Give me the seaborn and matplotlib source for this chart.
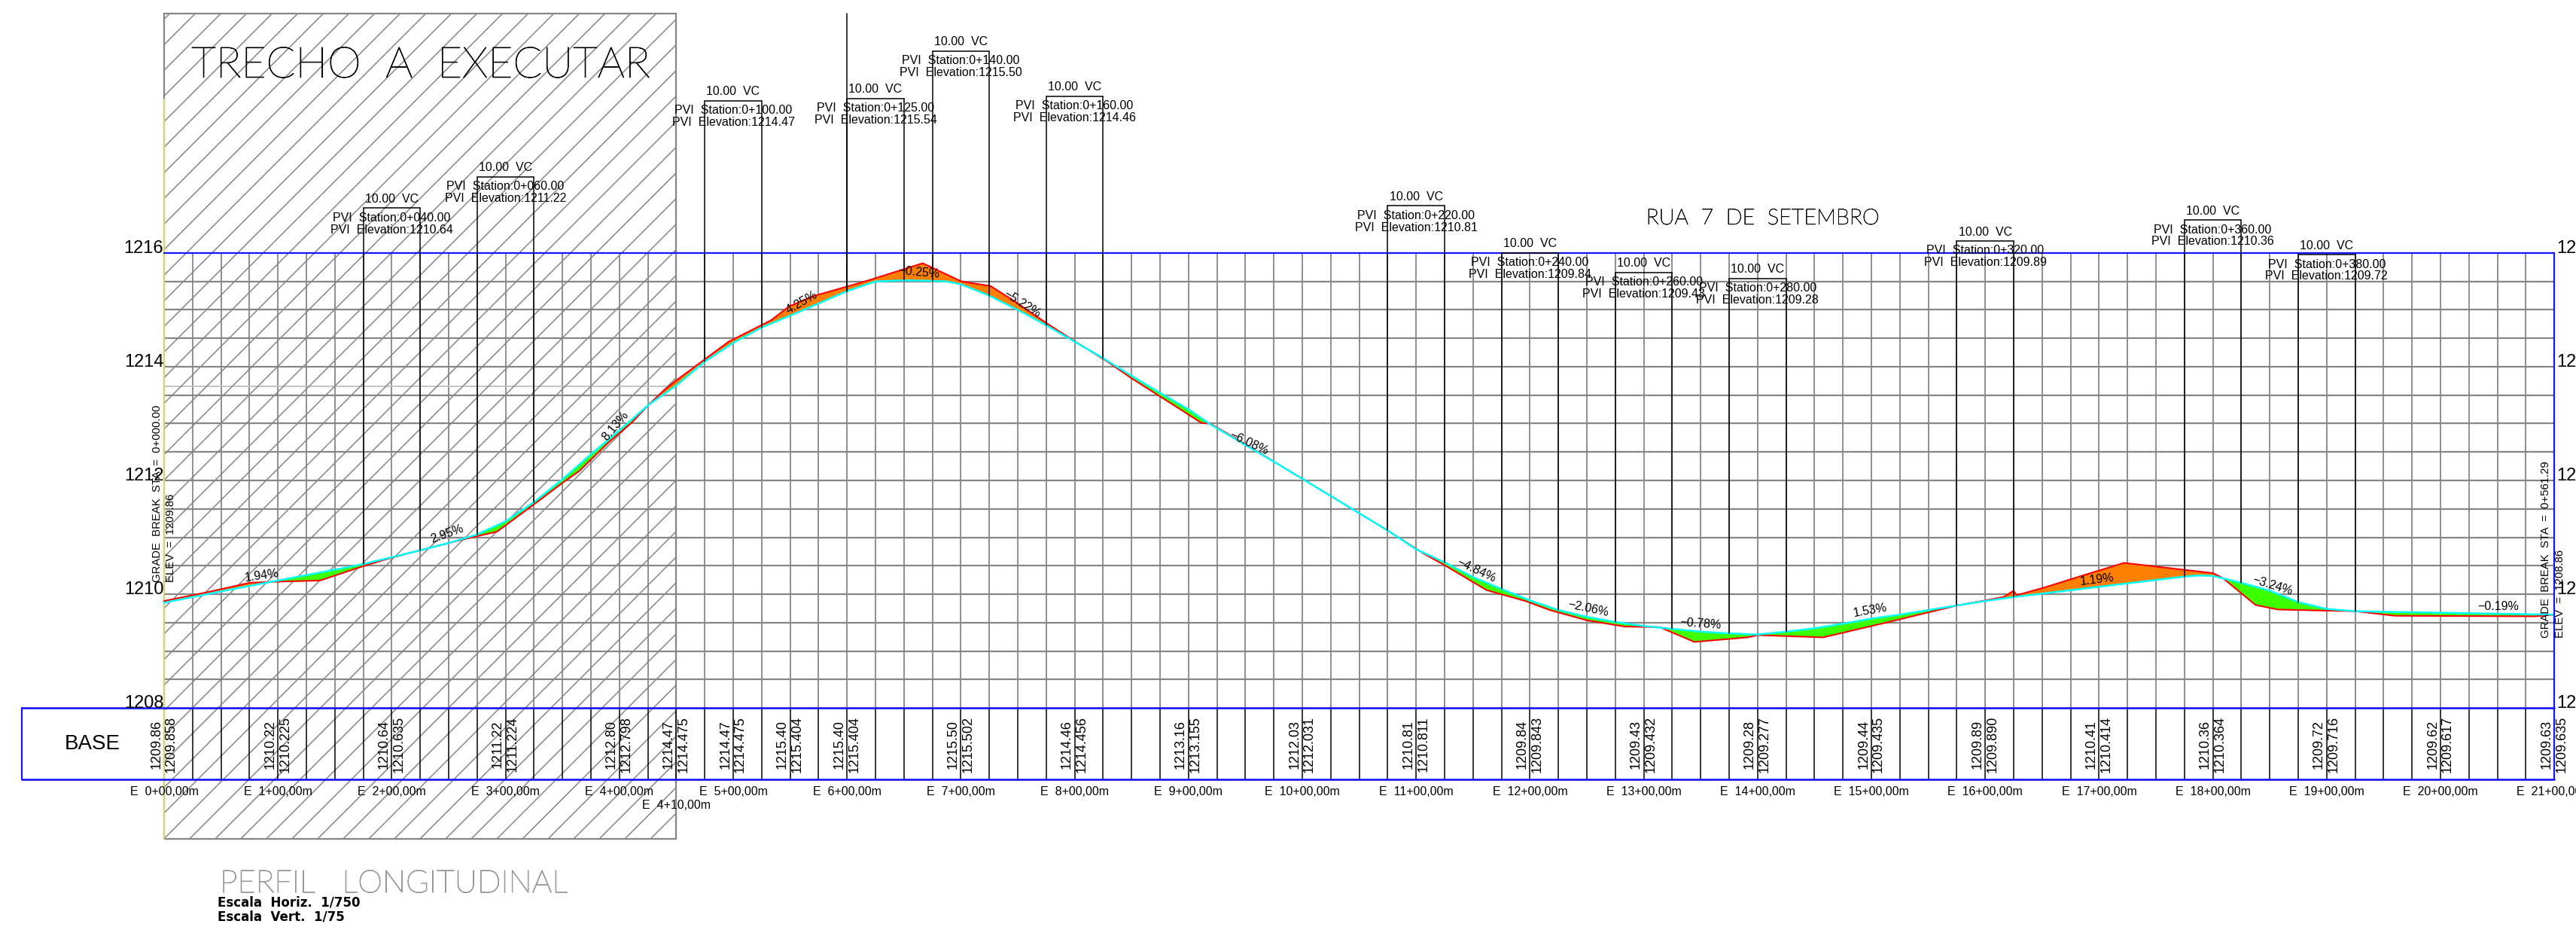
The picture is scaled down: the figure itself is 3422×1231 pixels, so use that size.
import numpy as np
import matplotlib
matplotlib.use('Agg')
import matplotlib.pyplot as plt
import matplotlib.patheffects as pe
from matplotlib.patches import Rectangle
import seaborn as sns

# greide (cyan)
greide_est = [0, 10, 20, 30, 35, 40, 45, 50, 55, 60, 65, 70, 75, 80, 85, 90, 95, 100, 105, 112.4, 120, 125,
              130, 135, 137.5, 140, 145, 150, 155, 160, 165, 170, 175, 180, 183.8, 196.5, 200, 215, 220, 225,
              230, 235, 240, 245, 250, 255, 260, 265, 270, 275, 280, 285, 290, 295, 300, 305, 310, 315, 320,
              325, 330, 335, 340, 345, 350, 355, 357.5, 360, 362.5, 365, 370, 375, 380, 385, 390, 420]
greide_cota = [1209.85, 1210.05, 1210.24, 1210.43, 1210.53, 1210.65, 1210.77, 1210.90, 1211.05, 1211.28, 1211.62,
               1212.02, 1212.46, 1212.88, 1213.32, 1213.67, 1214.09, 1214.42, 1214.69, 1215.00, 1215.33, 1215.50,
               1215.52, 1215.51, 1215.50, 1215.45, 1215.25, 1215.00, 1214.73, 1214.44, 1214.15, 1213.84, 1213.54,
               1213.25, 1212.99, 1212.24, 1212.03, 1211.12, 1210.79, 1210.56, 1210.30, 1210.09, 1209.89, 1209.72,
               1209.60, 1209.51, 1209.44, 1209.39, 1209.34, 1209.31, 1209.29, 1209.34, 1209.40, 1209.48, 1209.57,
               1209.64, 1209.72, 1209.80, 1209.88, 1209.95, 1210.01, 1210.07, 1210.13, 1210.19, 1210.25, 1210.31,
               1210.33, 1210.32, 1210.26, 1210.20, 1210.06, 1209.86, 1209.74, 1209.70, 1209.69, 1209.64]

# terreno (red)
terreno_est = [0, 7.4, 15, 20, 27.4, 34.9, 39.9, 44.9, 52.4, 58.5, 60, 65, 69.9, 73, 78, 82.3, 84.8, 88, 90, 95, 99.2,
               106.7, 109.8, 114, 120, 123.8, 133.3, 140.1, 145.2, 149.3, 155.3, 159.5, 165.6, 170.1, 178.1, 182.3,
               183.8, 187.6, 200, 215, 221.4, 225, 232.4, 239.2, 243.5, 250, 256.7, 262.8, 268.9, 278.2, 280, 291.5,
               303, 315, 319.5, 323.2, 325, 325.5, 330.5, 337.2, 344.4, 354.8, 360, 361.8, 367.5, 371.4, 379.8, 385,
               392, 416.6, 420]
terreno_cota = [1209.88, 1210.03, 1210.20, 1210.22, 1210.24, 1210.49, 1210.64, 1210.77, 1210.96, 1211.10, 1211.21,
                1211.58, 1211.95, 1212.17, 1212.66, 1213.03, 1213.30, 1213.60, 1213.76, 1214.13, 1214.44, 1214.82,
                1215.06, 1215.24, 1215.41, 1215.52, 1215.82, 1215.50, 1215.42, 1215.16, 1214.75, 1214.48, 1214.10,
                1213.79, 1213.28, 1213.01, 1213.00, 1212.78, 1212.03, 1211.12, 1210.71, 1210.51, 1210.07, 1209.88,
                1209.72, 1209.54, 1209.43, 1209.42, 1209.16, 1209.24, 1209.28, 1209.24, 1209.51, 1209.80, 1209.88,
                1209.95, 1210.06, 1209.98, 1210.12, 1210.33, 1210.55, 1210.43, 1210.37, 1210.28, 1209.81, 1209.73,
                1209.71, 1209.70, 1209.62, 1209.61, 1209.64]

# vertical curves
pvi_est = [40, 60, 100, 125, 140, 160, 220, 240, 260, 280, 320, 360, 380]
pvi_cota = ['1210.64', '1211.22', '1214.47', '1215.54', '1215.50', '1214.46', '1210.81',
            '1209.84', '1209.43', '1209.28', '1209.89', '1210.36', '1209.72']
pvi_topo = [1216.79, 1217.34, 1218.68, 1218.72, 1219.55, 1218.76, 1216.83,
            1216.00, 1215.66, 1215.55, 1216.21, 1216.58, 1215.97]

# slope labels: text, station, elevation, angle
rampa_txt = ['1.94%', '2.95%', '8.13%', '4.25%', '\u22120.25%', '\u22125.22%', '\u22126.08%',
             '\u22124.84%', '\u22122.06%', '\u22120.78%', '1.53%', '1.19%', '\u22123.24%', '\u22120.19%']
rampa_est = [17.2, 49.7, 79.3, 112, 132.6, 150.8, 190.6, 230.6, 250.3, 270, 299.8, 339.7, 370.5, 410.2]
rampa_cota = [1210.32, 1211.06, 1212.96, 1215.13, 1215.66, 1215.11, 1212.66,
              1210.42, 1209.75, 1209.48, 1209.71, 1210.25, 1210.15, 1209.78]
rampa_ang = [8, 20, 50, 30, -5, -32, -25, -25, -12, -4, 10, 7, -17, 0]

# base table
tab_est = [0, 20, 40, 60, 80, 90, 100, 110, 120, 140, 160, 180, 200, 220, 240, 260, 280, 300, 320, 340, 360, 380, 400, 420]
tab_a = ['1209.86', '1210.22', '1210.64', '1211.22', '1212.80', '1214.47', '1214.47', '1215.40', '1215.40', '1215.50',
         '1214.46', '1213.16', '1212.03', '1210.81', '1209.84', '1209.43', '1209.28', '1209.44', '1209.89', '1210.41',
         '1210.36', '1209.72', '1209.62', '1209.63']
tab_b = ['1209.858', '1210.225', '1210.635', '1211.224', '1212.798', '1214.475', '1214.475', '1215.404', '1215.404',
         '1215.502', '1214.456', '1213.155', '1212.031', '1210.811', '1209.843', '1209.432', '1209.277', '1209.435',
         '1209.890', '1210.414', '1210.364', '1209.716', '1209.617', '1209.635']
cotas_eixo = [1216, 1214, 1212, 1210, 1208]

CINZA = '#868686'
AZUL = '#1414ff'
NARROW = ['Liberation Sans Narrow', 'Liberation Sans']

sns.set_theme(style='white')
plt.rcParams['font.family'] = NARROW

fig = plt.figure(figsize=(34.22, 12.31), dpi=100)
ax = fig.add_axes([0, 0, 1, 1])
ax.set_xlim(-28.84, 423.81)
ax.set_ylim(1204.146, 1220.45)
ax.set_axis_off()

Z_BASE = 1206.74
Z_HACH = 1205.70
Z_TOPO = 1220.21


def titulo(x, y, txt, size, cor='black', traco=0.7):
    t = ax.text(x, y, txt, ha='left', va='center', fontsize=size, family='Lato', weight='light', color=cor, zorder=9)
    t.set_path_effects([pe.withStroke(linewidth=traco, foreground=cor)])


# grid
for e in np.arange(0, 425, 5):
    ax.plot([e, e], [1208, 1216], color=CINZA, lw=1.3, zorder=1)
for z in np.arange(1208.5, 1216, 0.5):
    ax.plot([0, 420], [z, z], color=CINZA, lw=1.6, zorder=1)
ax.plot([0, 90], [1213.66, 1213.66], color='#c4c4c4', lw=1.4, zorder=1)

# hatched area
ret = Rectangle((0, Z_HACH), 90, Z_TOPO - Z_HACH, fill=False, ec=CINZA, lw=1.6, zorder=2)
ax.add_patch(ret)
for e0 in np.arange(-148.5, 95, 4.5):
    linha, = ax.plot([e0, e0 + 200], [Z_HACH, Z_HACH + 200 * 0.1001], color=CINZA, lw=1.1, zorder=2)
    linha.set_clip_path(ret)
ax.plot([0, 0], [Z_HACH, 1218.7], color='#d6d66a', lw=1.5, zorder=3)

# cut / fill between profiles
xs = np.union1d(greide_est, terreno_est)
g = np.interp(xs, greide_est, greide_cota)
t = np.interp(xs, terreno_est, terreno_cota)
ax.fill_between(xs, g, t, where=t >= g, interpolate=True, color='#ff8000', lw=0, zorder=4)
ax.fill_between(xs, g, t, where=t <= g, interpolate=True, color='#3cff00', lw=0, zorder=4)
sns.lineplot(x=terreno_est, y=terreno_cota, color='#ff0000', lw=1.5, ax=ax, zorder=5, estimator=None, sort=False)
sns.lineplot(x=greide_est, y=greide_cota, color='#00ffff', lw=1.8, ax=ax, zorder=6, estimator=None, sort=False)

# blue frame and table
ax.plot([0, 420], [1216, 1216], color=AZUL, lw=1.6, zorder=7)
ax.plot([-25, 420], [1208, 1208], color=AZUL, lw=1.9, zorder=7)
ax.plot([-25, 420], [Z_BASE, Z_BASE], color=AZUL, lw=1.9, zorder=7)
ax.plot([-25, -25], [Z_BASE, 1208], color=AZUL, lw=1.6, zorder=7)
ax.plot([420, 420], [Z_BASE, 1216], color=AZUL, lw=1.6, zorder=7)
for e in np.arange(5, 425, 5):
    ax.plot([e, e], [Z_BASE, 1208], color='black', lw=1.1, zorder=6)

# vertical curve boxes
for est, cota, topo in zip(pvi_est, pvi_cota, pvi_topo):
    for lado in (est - 5, est + 5):
        ax.plot([lado, lado], [np.interp(lado, greide_est, greide_cota), topo], color='black', lw=1.1, zorder=8)
    ax.plot([est - 5, est + 5], [topo, topo], color='black', lw=1.1, zorder=8)
    ax.text(est, topo + 0.16, '10.00  VC', ha='center', va='center', fontsize=11.5, color='black', zorder=9)
    ax.text(est, topo - 0.17, 'PVI  Station:0+%03d.00' % est, ha='center', va='center', fontsize=11.5, color='black', zorder=9)
    ax.text(est, topo - 0.38, 'PVI  Elevation:' + cota, ha='center', va='center', fontsize=11.5, color='black', zorder=9)
ax.plot([120, 120], [np.interp(120, greide_est, greide_cota), Z_TOPO], color='black', lw=1.1, zorder=8)

for txt, est, cota, ang in zip(rampa_txt, rampa_est, rampa_cota, rampa_ang):
    ax.text(est, cota, txt, rotation=ang, rotation_mode='anchor', ha='center', va='center',
            fontsize=11.5, color='black', zorder=10)

# elevation labels on both sides
for c in cotas_eixo:
    ax.text(-0.1, c - 0.07, str(c), ha='right', va='bottom', fontsize=17, color='black', zorder=9)
    ax.text(420.4, c - 0.07, str(c), ha='left', va='bottom', fontsize=17, color='black', zorder=9)

# table text
for est, a, b in zip(tab_est, tab_a, tab_b):
    ax.text(est - 1.35, 1207.36, a, rotation=90, ha='center', va='center', fontsize=13, color='black', zorder=9)
    ax.text(est + 1.25, 1207.36, b, rotation=90, ha='center', va='center', fontsize=13, color='black', zorder=9)
ax.text(-17.5, 1207.37, 'BASE', ha='left', va='center', fontsize=20, color='black', zorder=9)

# station labels
for i in range(22):
    ax.text(i * 20, 1206.53, 'E  %d+00,00m' % i, ha='center', va='center', fontsize=11.5, color='black', zorder=9)
ax.text(90, 1206.28, 'E  4+10,00m', ha='center', va='center', fontsize=11.5, color='black', zorder=9)

# grade break notes
ax.text(-1.2, 1210.21, 'GRADE  BREAK  STA  =  0+000.00', rotation=90, ha='center', va='bottom', fontsize=10.7, color='black', zorder=9)
ax.text(1.15, 1210.21, 'ELEV  =  1209.86', rotation=90, ha='center', va='bottom', fontsize=10.7, color='black', zorder=9)
ax.text(418.5, 1209.23, 'GRADE  BREAK  STA  =  0+561.29', rotation=90, ha='center', va='bottom', fontsize=10.7, color='black', zorder=9)
ax.text(421, 1209.23, 'ELEV  =  1208.86', rotation=90, ha='center', va='bottom', fontsize=10.7, color='black', zorder=9)

# titles
titulo(4.8, 1219.30, 'TRECHO  A  EXECUTAR', 41)
titulo(260.4, 1216.61, 'RUA  7  DE  SETEMBRO', 20.8, traco=0.5)
titulo(9.8, 1204.90, 'PERFIL   LONGITUDINAL', 30, cor='#9a9a9a', traco=0.8)
ax.text(9.4, 1204.57, 'Escala  Horiz.  1/750', ha='left', va='center', fontsize=12, family='DejaVu Sans', weight='bold', color='black', zorder=9)
ax.text(9.4, 1204.33, 'Escala  Vert.  1/75', ha='left', va='center', fontsize=12, family='DejaVu Sans', weight='bold', color='black', zorder=9)

fig.savefig('out.png', dpi=100)
